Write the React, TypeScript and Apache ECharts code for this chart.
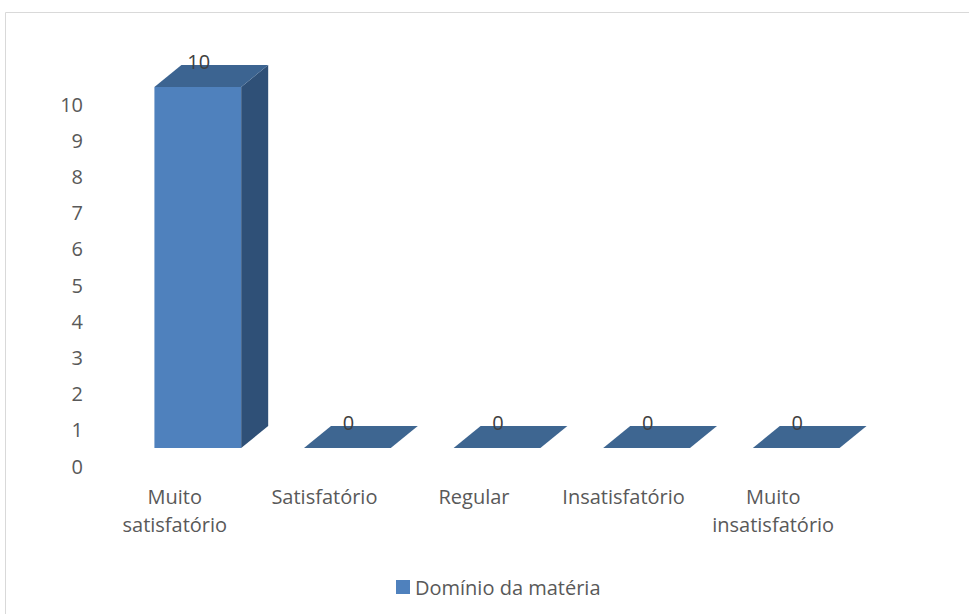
import React, { useEffect, useRef } from "react";
import * as echarts from "echarts";

const categories = ["Muito satisfatório", "Satisfatório", "Regular", "Insatisfatório", "Muito insatisfatório"];
const values = [10, 0, 0, 0, 0];
const seriesName = "Domínio da matéria";
const yMin = 0;
const yMax = 10;
const yInterval = 1;

const FONT = "'Open Sans', sans-serif";
const TEXT = "#595959";
const FRONT = "#4F81BD";
const TOP = "#3C6491";
const SIDE = "#2F5077";
const FLAT = "#3E6691";

export default function App() {
  const ref = useRef<HTMLDivElement>(null);
  useEffect(() => {
    document.body.style.margin = "0";
    const chart = echarts.init(ref.current!, null, { renderer: "svg" });
    const dx = 27;
    const dy = -22;
    chart.setOption({
      animation: false,
      backgroundColor: "#ffffff",
      graphic: [
        {
          type: "rect",
          shape: { x: 5.5, y: 12.5, width: 1000, height: 700 },
          style: { fill: "none", stroke: "#D9D9D9", lineWidth: 1 },
          silent: true,
        },
      ],
      legend: {
        data: [seriesName],
        left: 391,
        top: 572,
        icon: "rect",
        itemWidth: 14,
        itemHeight: 14,
        itemGap: 6,
        textStyle: { fontFamily: FONT, fontSize: 20, color: TEXT },
      },
      grid: [
        { left: 123, top: 87, width: 748, height: 361 },
        { left: 100, top: 104, width: 748, height: 362 },
      ],
      xAxis: [
        { type: "category", gridIndex: 0, data: categories, show: false },
        {
          type: "category",
          gridIndex: 1,
          data: categories,
          axisLine: { show: false },
          axisTick: { show: false },
          axisLabel: {
            margin: 16,
            interval: 0,
            fontFamily: FONT,
            fontSize: 20,
            color: TEXT,
            lineHeight: 28,
            formatter: (s: string) => s.replace("Muito ", "Muito\n"),
          },
        },
      ],
      yAxis: [
        { type: "value", gridIndex: 0, min: yMin, max: yMax, interval: yInterval, show: false },
        {
          type: "value",
          gridIndex: 1,
          min: yMin,
          max: yMax,
          interval: yInterval,
          axisLine: { show: false },
          axisTick: { show: false },
          splitLine: { show: false },
          axisLabel: { margin: 17, fontFamily: FONT, fontSize: 20, color: TEXT },
        },
      ],
      series: [
        {
          name: seriesName,
          type: "custom",
          xAxisIndex: 0,
          yAxisIndex: 0,
          itemStyle: { color: FRONT },
          data: values.map((v, i) => [i, v]),
          renderItem: (params: any, api: any) => {
            const idx = api.value(0);
            const v = api.value(1);
            const top = api.coord([idx, v]);
            const base = api.coord([idx, 0]);
            const bw = api.size([1, 0])[0] * 0.58;
            const x0 = top[0] - bw / 2;
            const x1 = top[0] + bw / 2;
            const children: any[] = [];
            if (v > 0) {
              children.push({
                type: "rect",
                shape: { x: x0, y: top[1], width: bw, height: base[1] - top[1] },
                style: { fill: FRONT },
              });
              children.push({
                type: "polygon",
                shape: {
                  points: [
                    [x1, top[1]],
                    [x1 + dx, top[1] + dy],
                    [x1 + dx, base[1] + dy],
                    [x1, base[1]],
                  ],
                },
                style: { fill: SIDE },
              });
            }
            children.push({
              type: "polygon",
              shape: {
                points: [
                  [x0, top[1]],
                  [x0 + dx, top[1] + dy],
                  [x1 + dx, top[1] + dy],
                  [x1, top[1]],
                ],
              },
              style: { fill: v > 0 ? TOP : FLAT },
            });
            children.push({
              type: "text",
              style: {
                text: String(v),
                x: top[0] + 1,
                y: top[1] + dy - 4,
                align: "center",
                verticalAlign: "middle",
                fontFamily: FONT,
                fontSize: 20,
                fill: "#404040",
              },
            });
            return { type: "group", children };
          },
        },
      ],
    });
    return () => chart.dispose();
  }, []);
  return <div ref={ref} style={{ width: 969, height: 614 }} />;
}
